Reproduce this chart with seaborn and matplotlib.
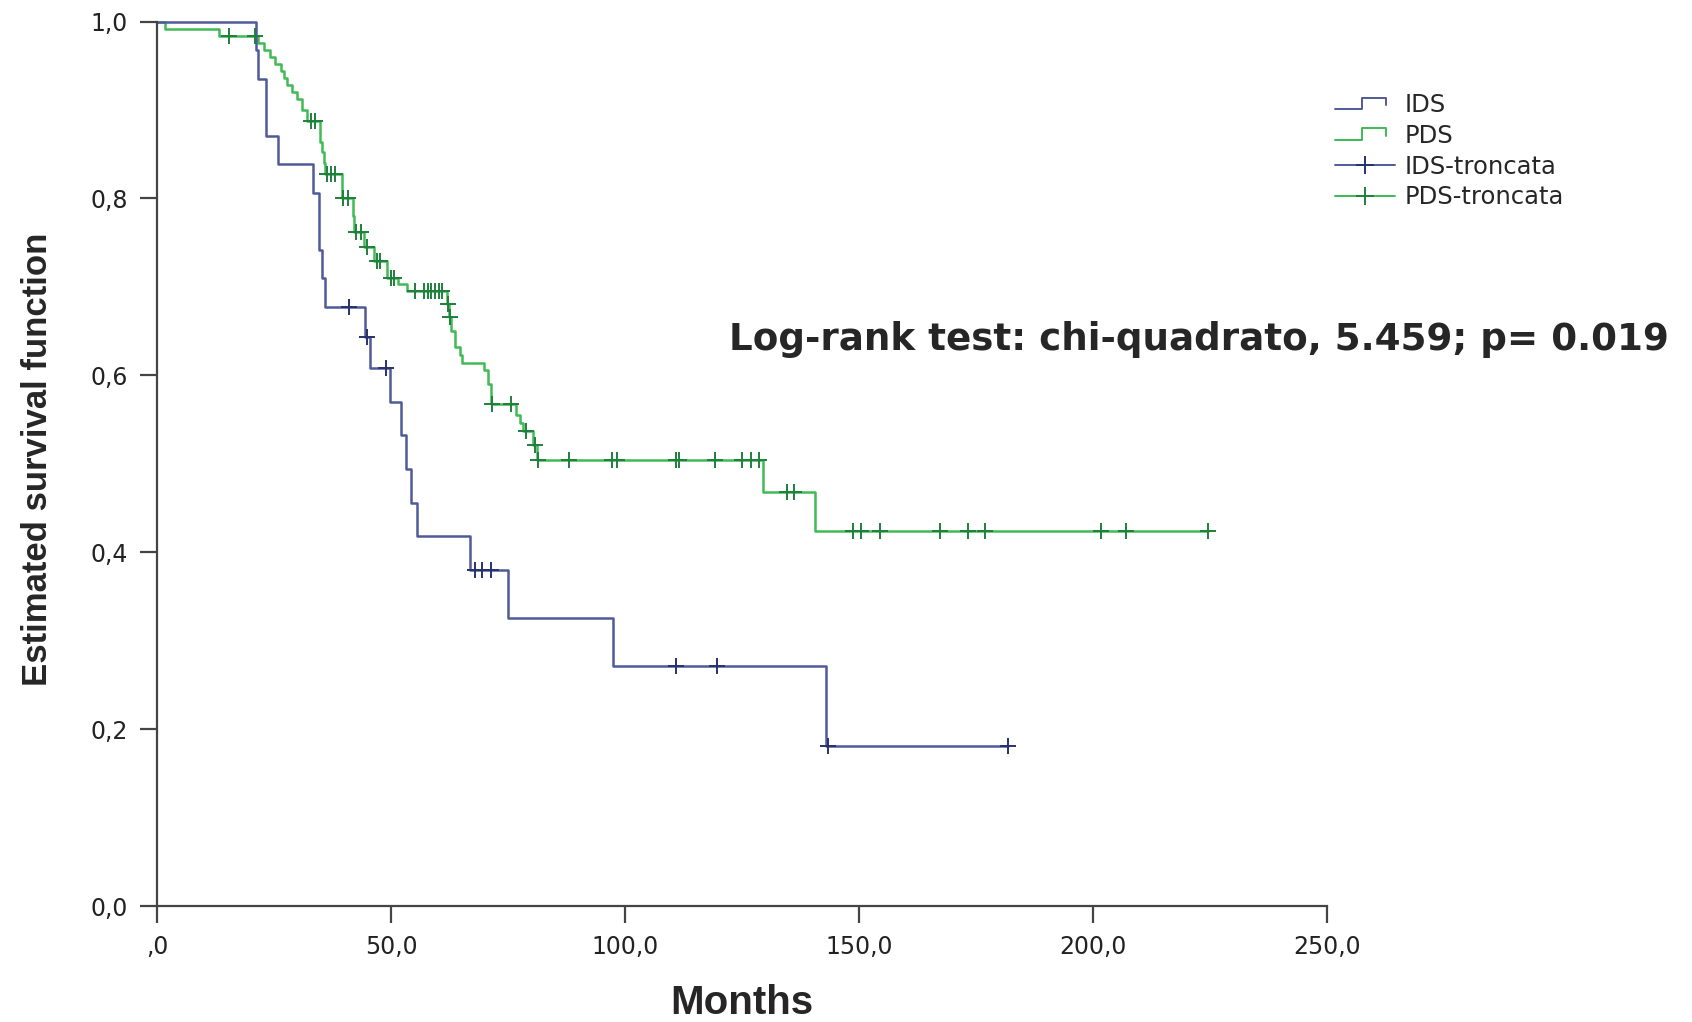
import numpy as np
import pandas as pd
import matplotlib
matplotlib.use("Agg")
import matplotlib.pyplot as plt
import seaborn as sns
from matplotlib.lines import Line2D
from matplotlib.legend_handler import HandlerBase

# ---- Kaplan-Meier estimates (months, survival after each step) ----
ids_times = [0.0, 21.2, 21.5, 23.2, 25.8, 33.4, 34.6, 35.3, 35.8, 44.5, 45.5,
             49.7, 52.2, 53.2, 54.3, 55.6, 66.9, 75.0, 97.4, 142.9]
ids_surv = [1.000, 0.968, 0.935, 0.871, 0.839, 0.806, 0.742, 0.710, 0.677,
            0.643, 0.608, 0.570, 0.532, 0.494, 0.456, 0.418, 0.380, 0.326,
            0.271, 0.181]
ids_censored = [41.0, 44.9, 49.0, 68.0, 69.5, 71.3, 110.8, 119.6, 143.4, 181.8]

pds_times = [0.0, 1.8, 13.2, 21.5, 22.8, 24.2, 25.3, 26.4, 27.2, 27.8, 28.8,
             29.9, 31.0, 32.1, 34.9, 35.3, 35.7, 36.0, 39.5, 41.9, 42.2, 44.2,
             46.3, 49.2, 51.5, 53.4, 62.0, 62.4, 62.9, 63.6, 64.8, 65.2, 69.8,
             70.8, 71.3, 76.8, 77.5, 78.3, 80.3, 81.2, 129.5, 140.5]
pds_surv = [1.000, 0.992, 0.984, 0.976, 0.968, 0.960, 0.952, 0.944, 0.936,
            0.928, 0.920, 0.912, 0.900, 0.888, 0.864, 0.852, 0.840, 0.828,
            0.800, 0.780, 0.762, 0.745, 0.729, 0.710, 0.703, 0.695, 0.681,
            0.666, 0.650, 0.632, 0.623, 0.614, 0.606, 0.590, 0.568, 0.555,
            0.546, 0.537, 0.521, 0.504, 0.468, 0.424]
pds_censored = [15.3, 21.0, 32.8, 33.8, 36.4, 37.2, 38.1, 39.8, 40.8, 42.5,
                43.6, 44.9, 47.0, 47.7, 50.0, 50.6, 55.2, 57.0, 57.8, 58.6,
                59.4, 60.2, 61.0, 62.1, 62.6, 71.6, 75.6, 78.9, 80.7, 81.4,
                88.1, 97.2, 98.3, 110.8, 111.6, 119.3, 125.0, 127.0, 128.6,
                134.7, 136.2, 148.8, 150.5, 154.5, 167.4, 173.2, 176.9, 201.8,
                207.0, 224.5]

x_ticks = [0, 50, 100, 150, 200, 250]
x_labels = [",0", "50,0", "100,0", "150,0", "200,0", "250,0"]
y_ticks = [0.0, 0.2, 0.4, 0.6, 0.8, 1.0]
y_labels = ["0,0", "0,2", "0,4", "0,6", "0,8", "1,0"]

IDS_LINE, IDS_MARK = "#4f5a98", "#27316b"
PDS_LINE, PDS_MARK = "#3fba55", "#1f7f3c"


def curve_frame(times, surv, censored):
    """Step curve extended to the last follow-up time."""
    t = list(times) + [max(censored)]
    s = list(surv) + [surv[-1]]
    return pd.DataFrame({"Months": t, "Survival": s})


def censor_frame(times, surv, censored):
    idx = np.searchsorted(np.asarray(times), np.asarray(censored), side="right") - 1
    return pd.DataFrame({"Months": censored,
                         "Survival": np.asarray(surv)[idx]})


sns.set_theme(style="white")
plt.rcParams["font.family"] = ["DejaVu Sans"]

fig = plt.figure(figsize=(16.92, 10.22), dpi=100)
ax = fig.add_axes([157 / 1692, 1 - 906 / 1022, 1170 / 1692, 884.4 / 1022])

for times, surv, cens, lc, mc in [
    (pds_times, pds_surv, pds_censored, PDS_LINE, PDS_MARK),
    (ids_times, ids_surv, ids_censored, IDS_LINE, IDS_MARK),
]:
    sns.lineplot(data=curve_frame(times, surv, cens), x="Months", y="Survival",
                 drawstyle="steps-post", estimator=None, sort=False,
                 color=lc, linewidth=1.8, ax=ax, clip_on=False)
    sns.scatterplot(data=censor_frame(times, surv, cens), x="Months",
                    y="Survival", marker="+", s=120, linewidth=1.4,
                    color=mc, ax=ax, clip_on=False, zorder=4)

ax.set_xlim(0, 250)
ax.set_ylim(0, 1.0)
ax.set_xticks(x_ticks)
ax.set_xticklabels(x_labels)
ax.set_yticks(y_ticks)
ax.set_yticklabels(y_labels)
ax.set_xlabel("")
ax.set_ylabel("")
for side in ["top", "right"]:
    ax.spines[side].set_visible(False)
for side in ["left", "bottom"]:
    ax.spines[side].set_color("#444444")
    ax.spines[side].set_linewidth(1.6)
ax.tick_params(axis="both", direction="out", length=12, width=1.6,
               color="#444444", labelsize=17, labelcolor="#222222", pad=9)
ax.tick_params(axis="y", left=True)
ax.tick_params(axis="x", bottom=True)

fig.text(38 / 1692, 1 - 459 / 1022, "Estimated survival function",
         rotation=90, ha="center", va="center", fontsize=25,
         fontweight="bold", family=["Liberation Sans", "DejaVu Sans"])
fig.text(742 / 1692, 1 - 1003 / 1022, "Months", ha="center", va="center",
         fontsize=29, fontweight="bold", family=["Liberation Sans", "DejaVu Sans"])
fig.text(729 / 1692, 1 - 340 / 1022,
         "Log-rank test: chi-quadrato, 5.459; p= 0.019",
         ha="left", va="center", fontsize=26.8, fontweight="bold",
         family=["DejaVu Sans"])


class StepHandler(HandlerBase):
    def create_artists(self, legend, orig_handle, xdescent, ydescent,
                       width, height, fontsize, trans):
        x0, y0 = -xdescent, -ydescent
        xs = [x0, x0 + 0.45 * width, x0 + 0.45 * width,
              x0 + 0.85 * width, x0 + 0.85 * width]
        ys = [y0 + 0.15 * height, y0 + 0.15 * height, y0 + 0.85 * height,
              y0 + 0.85 * height, y0 + 0.4 * height]
        return [Line2D(xs, ys, color=orig_handle.get_color(),
                       lw=orig_handle.get_linewidth(), transform=trans)]


h_ids = Line2D([], [], color=IDS_LINE, lw=1.4)
h_pds = Line2D([], [], color=PDS_LINE, lw=1.4)
h_ids_c = Line2D([], [], color=IDS_LINE, lw=1.4, marker="+", markersize=13,
                 markeredgewidth=1.4, markeredgecolor=IDS_MARK)
h_pds_c = Line2D([], [], color=PDS_LINE, lw=1.4, marker="+", markersize=13,
                 markeredgewidth=1.4, markeredgecolor=PDS_MARK)
fig.legend([h_ids, h_pds, h_ids_c, h_pds_c],
           ["IDS", "PDS", "IDS-troncata", "PDS-troncata"],
           handler_map={h_ids: StepHandler(), h_pds: StepHandler()},
           loc="upper left", bbox_to_anchor=(1335 / 1692, 1 - 93 / 1022),
           frameon=False, fontsize=17.5, handlelength=2.45, handletextpad=0.42,
           labelspacing=0.28, borderaxespad=0, borderpad=0)

fig.savefig("out.png", dpi=100, facecolor="white")
